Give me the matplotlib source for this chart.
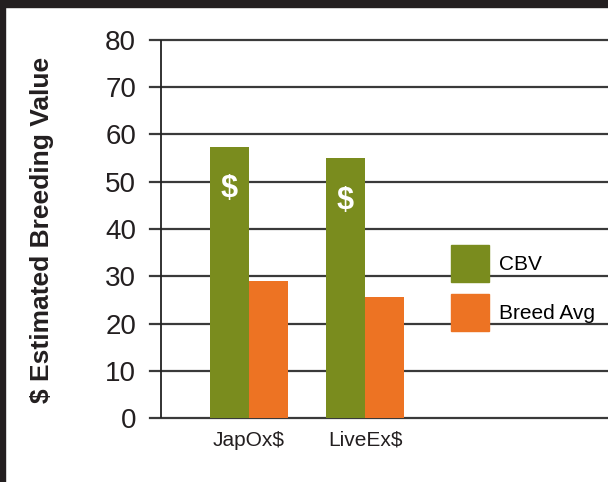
import matplotlib
matplotlib.use("Agg")
import matplotlib.pyplot as plt
from matplotlib.patches import Patch, Rectangle

# data
categories = ["JapOx$", "LiveEx$"]
cbv = [57.4, 55.0]
breed_avg = [29.0, 25.6]
series_names = ["CBV", "Breed Avg"]
yticks = [0, 10, 20, 30, 40, 50, 60, 70, 80]

green = "#7a8c1e"
orange = "#ed7323"
dark = "#231f20"

plt.rcParams['font.family'] = ['Liberation Sans', 'DejaVu Sans']

W, H = 608, 482
fig = plt.figure(figsize=(W / 100, H / 100), dpi=100)

# dark frame on top and left edge
fig.patches.append(Rectangle((0, 1 - 7 / H), 1, 7 / H, transform=fig.transFigure,
                             color=dark, zorder=0))
fig.patches.append(Rectangle((0, 0), 5 / W, 1, transform=fig.transFigure,
                             color=dark, zorder=0))

ax = fig.add_axes([150 / W, (H - 418) / H, 458 / W, 378 / H])

x0 = 249
step = 116
ax.set_xlim((150 - x0) / step, (608 - x0) / step)
ax.set_ylim(0, 80)

bw = 39 / step
xs = list(range(len(categories)))
ax.bar([x - bw / 2 for x in xs], cbv, width=bw, color=green, zorder=3)
ax.bar([x + bw / 2 for x in xs], breed_avg, width=bw, color=orange, zorder=3)

for x, v in zip(xs, cbv):
    ax.text(x - bw / 2, v - 9, "$", color="white", fontsize=22, fontweight="bold",
            ha="center", va="center", zorder=4)

for t in yticks:
    ax.axhline(t, color="#3a3a3a", lw=1.6, clip_on=False, zorder=1)
ax.axvline((161 - x0) / step, 0, 1, color="#222222", lw=1.3, zorder=2)

for s in ax.spines.values():
    s.set_visible(False)
ax.set_yticks(yticks)
ax.set_xticks(xs)
ax.set_xticklabels(categories)
ax.tick_params(axis="y", length=0, pad=10, labelsize=20, colors=dark)
ax.tick_params(axis="x", length=0, pad=9, labelsize=15, colors=dark)

fig.text(42 / W, 1 - 230 / H, "$ Estimated Breeding Value", rotation=90,
         ha="center", va="center", fontsize=19, fontweight="bold", color=dark)

handles = [Patch(color=green), Patch(color=orange)]
ax.legend(handles, series_names, loc="upper left",
          bbox_to_anchor=(451 / W, 1 - 245 / H), bbox_transform=fig.transFigure,
          frameon=False, borderpad=0, borderaxespad=0, fontsize=15,
          handlelength=1.8, handleheight=2.35, handletextpad=0.5, labelspacing=0.6)

fig.savefig("out.png", dpi=100)
